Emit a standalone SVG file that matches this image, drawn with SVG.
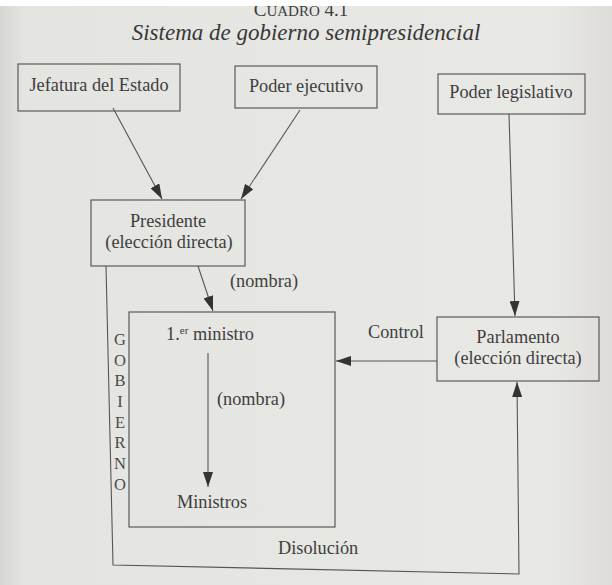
<svg xmlns="http://www.w3.org/2000/svg" width="612" height="585" viewBox="0 0 612 585">
<defs>
<linearGradient id="bg" x1="0" y1="0" x2="1" y2="0">
<stop offset="0" stop-color="#d6d6d3"/>
<stop offset="0.04" stop-color="#e4e4e1"/>
<stop offset="0.9" stop-color="#e8e8e5"/>
<stop offset="1" stop-color="#dedcd9"/>
</linearGradient>
<marker id="ah" markerWidth="16" markerHeight="10" refX="15" refY="5" orient="auto" markerUnits="userSpaceOnUse">
<path d="M0,0 L15,5 L0,10 Z" fill="#333"/>
</marker>
<style>
.box{fill:none;stroke:#5a5a5a;stroke-width:1.2}
.ln{fill:none;stroke:#555;stroke-width:1.1}
.t{font-family:"Liberation Serif","Times New Roman",serif;font-size:18.3px;fill:#3e3e3e}
.c{text-anchor:middle}
.g{font-family:"Liberation Serif","Times New Roman",serif;font-size:16.5px;fill:#4a4a4a;text-anchor:middle}
</style>
</defs>
<rect width="612" height="585" fill="url(#bg)"/>
<text x="301" y="16" class="t c" style="font-size:19px">C<tspan style="font-size:15px">UADRO</tspan> 4.1</text>
<rect width="612" height="6" fill="#ffffff"/>
<text x="306" y="40" class="t c" style="font-size:23px;font-style:italic;fill:#383838">Sistema de gobierno semipresidencial</text>

<g id="jefatura">
<rect class="box" x="18" y="64" width="162" height="47"/>
<text class="t c" x="99" y="91">Jefatura del Estado</text>
</g>
<g id="ejecutivo">
<rect class="box" x="235" y="66" width="142" height="42"/>
<text class="t c" x="306" y="92">Poder ejecutivo</text>
</g>
<g id="legislativo">
<rect class="box" x="438" y="74" width="147" height="40"/>
<text class="t c" x="511" y="98">Poder legislativo</text>
</g>
<g id="presidente">
<rect class="box" x="91" y="200" width="154" height="66"/>
<text class="t c" x="168" y="227">Presidente</text>
<text class="t c" x="169" y="248">(elección directa)</text>
</g>
<g id="gobierno">
<rect class="box" x="129" y="312" width="206" height="215"/>
<text class="t c" x="210" y="340">1.<tspan dy="-6" style="font-size:11px">er</tspan><tspan dy="6"> ministro</tspan></text>
<text class="t c" x="212" y="508">Ministros</text>
<text class="g" x="120" y="345">G</text>
<text class="g" x="120" y="366">O</text>
<text class="g" x="120" y="386">B</text>
<text class="g" x="120" y="407">I</text>
<text class="g" x="120" y="428">E</text>
<text class="g" x="120" y="448">R</text>
<text class="g" x="120" y="469">N</text>
<text class="g" x="120" y="490">O</text>
</g>
<g id="parlamento">
<rect class="box" x="437" y="317" width="162" height="64"/>
<text class="t c" x="518" y="343">Parlamento</text>
<text class="t c" x="518" y="364">(elección directa)</text>
</g>

<g id="connectors">
<line class="ln" x1="113" y1="108" x2="162" y2="199" marker-end="url(#ah)"/>
<line class="ln" x1="300" y1="110" x2="241" y2="199" marker-end="url(#ah)"/>
<line class="ln" x1="509" y1="114" x2="515" y2="316" marker-end="url(#ah)"/>
<line class="ln" x1="198" y1="266" x2="213" y2="311" marker-end="url(#ah)"/>
<line class="ln" x1="208" y1="353" x2="208" y2="487" marker-end="url(#ah)"/>
<line class="ln" x1="437" y1="361" x2="336" y2="361" marker-end="url(#ah)"/>
<polyline class="ln" points="106,266 113,565 519,574 517,382" marker-end="url(#ah)"/>
<text class="t" x="230" y="287">(nombra)</text>
<text class="t" x="217" y="405">(nombra)</text>
<text class="t" x="368" y="338">Control</text>
<text class="t" x="278" y="554">Disolución</text>
</g>
</svg>
